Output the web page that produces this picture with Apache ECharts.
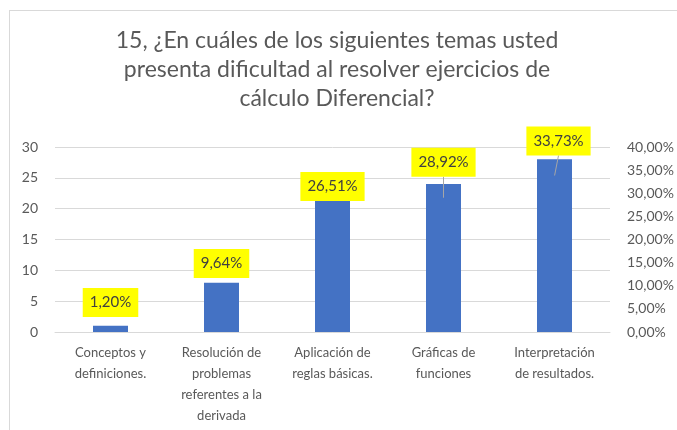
<!DOCTYPE html>
<html>
<head>
<meta charset="utf-8">
<script src="https://cdn.jsdelivr.net/npm/echarts@6/dist/echarts.min.js"></script>
<style>
    html, body { margin: 0; padding: 0; background: #fff; }
    .frame {
        position: absolute; left: 9px; top: 10px;
        width: 700px; height: 450px;
        border: 1px solid #d9d9d9;
    }
    #chart { position: absolute; left: 0; top: 0; width: 677px; height: 430px; }
</style>
</head>
<body>
<div class="frame"></div>
<div id="chart"></div>
<script>
// categorías (eje X)
const categories = [
    'Conceptos y\ndefiniciones.',
    'Resolución de\nproblemas\nreferentes a la\nderivada',
    'Aplicación de\nreglas básicas.',
    'Gráficas de\nfunciones',
    'Interpretación\nde resultados.'
];
// número de respuestas
const counts = [1, 8, 22, 24, 28];
// porcentaje de respuestas
const percents = [1.20, 9.64, 26.51, 28.92, 33.73];
// etiquetas de los ejes
const leftTicks = [0, 30, 5];
const rightTicks = [0, 40, 5];

// desplazamiento de cada etiqueta respecto a su punto
const labelDy = [-24, -24, -23, -36, -35];
const labelDx = [0, 0, 0, 0, 4];
const showLeader = [false, false, false, true, true];

const font = 'Lato, "Open Sans", sans-serif';
const myChart = echarts.init(document.getElementById('chart'), null, { renderer: 'canvas' });

const fmt = v => v.toFixed(2).replace('.', ',') + '%';

const option = {
    backgroundColor: 'transparent',
    title: {
        text: '15, ¿En cuáles de los siguientes temas usted\npresenta dificultad al resolver ejercicios de\ncálculo Diferencial?',
        left: 332,
        textAlign: 'center',
        top: 21,
        textStyle: {
            color: '#595959',
            fontFamily: font,
            fontWeight: 'normal',
            fontSize: 23,
            lineHeight: 29
        }
    },
    grid: { left: 55, right: 67, top: 147, bottom: 98, containLabel: false },
    xAxis: {
        type: 'category',
        data: categories,
        axisLine: { lineStyle: { color: '#d9d9d9' } },
        axisTick: { show: false },
        axisLabel: {
            color: '#595959',
            fontFamily: font,
            fontSize: 13,
            lineHeight: 21,
            margin: 10,
            interval: 0
        }
    },
    yAxis: [
        {
            type: 'value',
            min: leftTicks[0],
            max: leftTicks[1],
            interval: leftTicks[2],
            axisLine: { show: false },
            axisTick: { show: false },
            splitLine: { lineStyle: { color: '#d9d9d9' } },
            axisLabel: { color: '#595959', fontFamily: font, fontSize: 14, margin: 17 }
        },
        {
            type: 'value',
            min: rightTicks[0],
            max: rightTicks[1],
            interval: rightTicks[2],
            axisLine: { show: false },
            axisTick: { show: false },
            splitLine: { show: false },
            axisLabel: {
                color: '#595959',
                fontFamily: font,
                fontSize: 14,
                margin: 17,
                formatter: fmt
            }
        }
    ],
    series: [
        {
            name: 'Respuestas',
            type: 'bar',
            data: counts,
            barWidth: 35,
            itemStyle: { color: '#4472c4' }
        },
        {
            name: 'Porcentaje',
            type: 'line',
            yAxisIndex: 1,
            data: percents.map((p, i) => ({
                value: p,
                labelLine: { show: showLeader[i] }
            })),
            lineStyle: { opacity: 0 },
            symbol: 'circle',
            symbolSize: 1,
            showSymbol: true,
            itemStyle: { color: 'rgba(0,0,0,0)' },
            z: 5,
            label: {
                show: true,
                position: 'inside',
                formatter: p => fmt(p.value),
                color: '#404040',
                fontFamily: font,
                fontSize: 15,
                lineHeight: 18,
                backgroundColor: '#ffff00',
                padding: [6, 7, 5, 7]
            },
            labelLine: {
                show: false,
                lineStyle: { color: '#a6a6a6', width: 1 }
            },
            labelLayout: p => ({ dy: labelDy[p.dataIndex], dx: labelDx[p.dataIndex] })
        }
    ]
};

myChart.setOption(option);

window.addEventListener('resize', () => {
    myChart.resize();
});
</script>
</body>
</html>
